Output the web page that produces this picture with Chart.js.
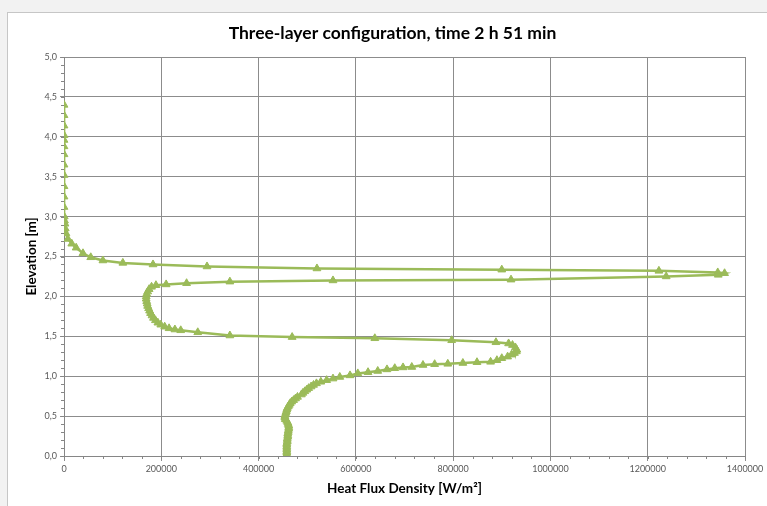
<!DOCTYPE html>
<html><head><meta charset="utf-8">
<script src="https://cdn.jsdelivr.net/npm/chart.js@4.4.1/dist/chart.umd.min.js"></script>
<style>html,body{margin:0;padding:0;background:#f2f2f2;}canvas{display:block;}</style>
</head><body>
<canvas id="c" width="767" height="506"></canvas>
<script>
const chartTitle = 'Three-layer configuration, time 2 h 51 min';
const xAxisTitle = 'Heat Flux Density [W/m²]';
const yAxisTitle = 'Elevation [m]';

// Elevation [m] of each measured point, in drawing order (top to bottom)
const elevation = [
  4.40,4.27,4.14,4.02,3.96,3.88,3.78,3.65,3.52,3.38,3.25,3.12,
  3.00,2.95,2.91,2.85,2.79,2.72,2.66,2.61,2.54,2.49,2.45,2.42,2.40,2.375,2.35,2.335,2.32,2.30,2.29,
  2.27,2.25,2.21,2.20,2.185,2.165,2.15,2.14,2.12,2.09,2.06,2.03,2.00,1.97,1.94,1.91,1.88,1.85,1.82,1.79,1.76,1.73,1.70,1.67,1.645,1.62,1.60,1.585,1.575,1.55,1.51,
  1.49,1.475,1.45,1.425,1.41,1.39,1.36,1.33,1.31,1.29,1.27,1.245,1.225,1.20,1.18,1.175,1.165,1.155,1.15,1.14,1.115,1.11,1.10,1.085,1.065,1.05,1.035,1.01,
  0.99,0.97,0.95,0.93,0.91,0.89,0.87,0.85,0.83,0.81,0.79,0.77,0.74,0.72,0.70,0.68,0.66,0.64,0.62,0.60,0.58,0.56,0.54,0.52,0.50,
  0.48,0.46,0.44,0.42,0.40,0.38,0.36,0.34,0.32,0.30,0.28,0.26,0.24,0.22,0.20,0.18,0.16,0.14,0.12,0.10,0.08,0.06,0.04,0.02,0.00
];
// Heat flux density [W/m²] at each of those elevations
const heatFlux = [
  0,0,0,0,0,0,0,0,0,0,0,0,
  500,1000,2000,2500,4000,8000,16000,25000,39000,55000,80000,121000,183000,294000,520000,900000,1223000,1344000,1358000,
  1345000,1238000,919000,553000,341000,252000,210000,189000,180000,175000,172000,170000,169000,169000,170000,171000,172000,174000,176000,178000,181000,184000,188000,193000,199000,207000,216000,228000,240000,275000,341000,
  469000,639000,797000,888000,914000,922000,928000,931000,930000,926000,920000,912000,900000,890000,877000,849000,820000,789000,762000,738000,715000,697000,680000,664000,645000,625000,604000,588000,
  567000,553000,540000,528000,519000,513000,508000,503000,499000,495000,491000,488000,480000,476000,472000,468000,465000,463000,461000,459000,458000,457000,456000,455000,454000,
  454000,455000,458000,460000,461000,462000,462000,462000,461000,461000,460000,460000,460000,459000,459000,459000,458000,458000,458000,458000,458000,458000,458000,458000,458000
];

const xTickValues = [0,200000,400000,600000,800000,1000000,1200000,1400000];
const yTickValues = [0,0.5,1,1.5,2,2.5,3,3.5,4,4.5,5];
const xMinorStep = 40000;
const yMinorStep = 0.1;

const points = elevation.map((e, i) => ({x: heatFlux[i], y: e}));

const frame = {
  id: 'frame',
  beforeDraw(chart) {
    const ctx = chart.ctx;
    ctx.save();
    ctx.fillStyle = '#f2f2f2';
    ctx.fillRect(0, 0, chart.width, chart.height);
    ctx.fillStyle = '#ffffff';
    ctx.fillRect(7, 12, chart.width, chart.height);
    ctx.strokeStyle = '#c6c6c6';
    ctx.lineWidth = 1;
    ctx.strokeRect(7.5, 12.5, chart.width + 10, chart.height + 10);
    ctx.restore();
  }
};

const minorTicks = {
  id: 'minorTicks',
  afterDraw(chart) {
    const {ctx, scales: {x, y}} = chart;
    ctx.save();
    ctx.strokeStyle = '#868686';
    ctx.lineWidth = 1;
    ctx.beginPath();
    for (let v = x.min; v <= x.max + 1; v += xMinorStep) {
      const px = Math.round(x.getPixelForValue(v)) + 0.5;
      ctx.moveTo(px, y.bottom);
      ctx.lineTo(px, y.bottom + 3);
    }
    for (let k = 0; k <= Math.round((y.max - y.min) / yMinorStep); k++) {
      const py = Math.round(y.getPixelForValue(y.min + k * yMinorStep)) + 0.5;
      ctx.moveTo(x.left, py);
      ctx.lineTo(x.left - 3, py);
    }
    ctx.stroke();
    ctx.restore();
  }
};

const green = '#9bbb59';
new Chart(document.getElementById('c'), {
  type: 'scatter',
  data: {
    datasets: [{
      data: points,
      showLine: true,
      borderColor: green,
      backgroundColor: green,
      borderWidth: 2.5,
      pointStyle: 'triangle',
      pointRadius: 4.5,
      pointBorderWidth: 1,
      pointBorderColor: green,
      pointBackgroundColor: green,
      tension: 0
    }]
  },
  options: {
    responsive: false,
    animation: false,
    layout: {padding: {left: 40, right: 22, top: 0, bottom: 0}},
    plugins: {
      legend: {display: false},
      tooltip: {enabled: false},
      title: {
        display: true,
        text: chartTitle,
        color: '#000000',
        font: {family: 'Lato', size: 17.5, weight: 'bold'},
        padding: {top: 22.5, bottom: 13.5}
      }
    },
    scales: {
      x: {
        type: 'linear',
        min: 0, max: 1400000,
        afterFit(s) { s.height = 50; },
        afterBuildTicks(s) { s.ticks = xTickValues.map(v => ({value: v})); },
        ticks: {
          color: '#595959',
          font: {family: 'Lato', size: 9},
          padding: 3,
          maxRotation: 0,
          callback: v => String(v)
        },
        grid: {color: '#8c8c8c', lineWidth: 1, tickLength: 5, drawTicks: true},
        border: {color: '#868686'},
        title: {
          display: true,
          text: xAxisTitle,
          color: '#000000',
          font: {family: 'Lato', size: 13.5, weight: 'bold'},
          padding: {top: 0, bottom: 9}
        }
      },
      y: {
        type: 'linear',
        min: 0, max: 5,
        afterFit(s) { s.width = 24; },
        afterBuildTicks(s) { s.ticks = yTickValues.map(v => ({value: v})); },
        ticks: {
          color: '#595959',
          font: {family: 'Lato', size: 9},
          padding: 3,
          callback: v => Number(v).toFixed(1).replace('.', ',')
        },
        grid: {color: '#8c8c8c', lineWidth: 1, tickLength: 4, drawTicks: true},
        border: {color: '#868686'},
        title: {
          display: true,
          text: yAxisTitle,
          color: '#000000',
          font: {family: 'Lato', size: 13.5, weight: 'bold'},
          padding: {top: -16, bottom: 0}
        }
      }
    }
  },
  plugins: [frame, minorTicks]
});
</script>
</body></html>
